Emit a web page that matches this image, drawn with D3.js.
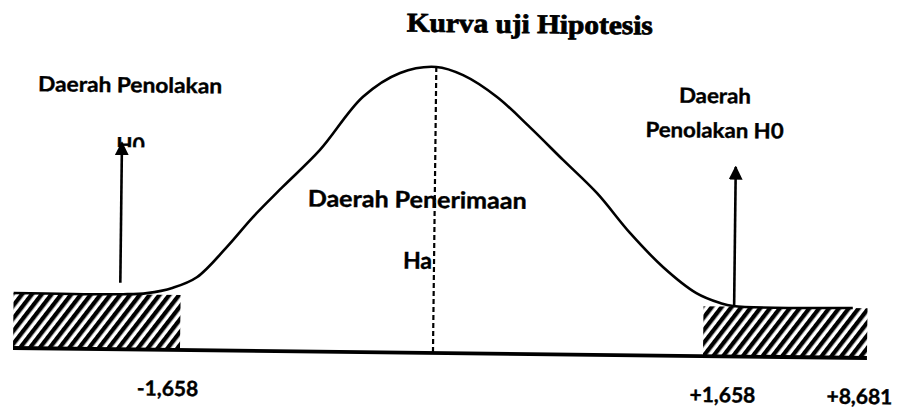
<!DOCTYPE html>
<html>
<head>
<meta charset="utf-8">
<script src="https://cdn.jsdelivr.net/npm/d3@7"></script>
<style>
  html, body { margin: 0; padding: 0; background: #fff; }
  svg { display: block; }
</style>
</head>
<body>
<svg id="chart" width="898" height="410"></svg>
<script>
// --- Test values ---------------------------------------------------------
const criticalValues = [-1.658, 1.658];   // t-tabel
const tStatistic = 8.681;                 // t-hitung

// Axis tick values and their printed labels
const tickValues = [-1.658, 1.658, 8.681];
const tickLabels = ["-1,658", "+1,658", "+8,681"];

// Outline of the bell curve: position on the t axis and curve height
const curveT = [-8.681, -4.08, -3.07, -1.98, -1.553, -1.358, -1.19, -0.996, -0.756,
                -0.478, -0.237, 0, 0.165, 0.375, 0.58, 0.785, 0.996, 1.201, 1.406,
                1.613, 2.369, 2.921, 8.05];
const curveHeight = [0.077, 0.077, 0.079, 0.087, 0.102, 0.145, 0.187, 0.23, 0.282,
                     0.357, 0.391, 0.4, 0.389, 0.359, 0.317, 0.272, 0.226, 0.171, 0.124,
                     0.088, 0.0745, 0.0705, 0.0697];

// Texts
const titleText = "Kurva uji Hipotesis";
const leftRegionText = "Daerah Penolakan";
const leftHypText = "H0";
const centerRegionText = "Daerah Penerimaan";
const centerHypText = "Ha";
const rightRegionLines = ["Daerah", "Penolakan H0"];

// --- Drawing -------------------------------------------------------------
const svg = d3.select("#chart");
const SANS = "Lato, 'Open Sans', 'DejaVu Sans', sans-serif";
const SERIF = "'Liberation Serif', 'Times New Roman', serif";

// The t axis is drawn broken: the tails out to ±t-hitung are compressed.
const x = d3.scaleLinear()
  .domain([-tStatistic, criticalValues[0], 0, criticalValues[1], tStatistic])
  .range([13, 180, 433, 703, 867]);
const y = d3.scaleLinear().domain([0, 0.4]).range([353, 67]);

const defs = svg.append("defs");
defs.append("pattern")
    .attr("id", "hatch")
    .attr("patternUnits", "userSpaceOnUse")
    .attr("width", 7.8).attr("height", 10)
    .attr("patternTransform", "rotate(37)")
  .append("rect")
    .attr("x", 0).attr("y", 0)
    .attr("width", 4.3).attr("height", 10)
    .attr("fill", "#000");

defs.append("clipPath").attr("id", "h0clip")
  .append("rect").attr("x", 0).attr("y", 0).attr("width", 898).attr("height", 151);

defs.append("marker")
    .attr("id", "arrowhead")
    .attr("viewBox", "0 0 10 10")
    .attr("refX", 9).attr("refY", 5)
    .attr("markerUnits", "userSpaceOnUse")
    .attr("markerWidth", 14).attr("markerHeight", 14)
    .attr("orient", "auto")
  .append("path")
    .attr("d", "M0,0 L10,5 L0,10 Z")
    .attr("fill", "#000");

// Whole sketch sits slightly tilted
const g = svg.append("g").attr("transform", "rotate(0.67, 440, 350)");

// Rejection regions (hatched)
const tailLeft = curveHeight[0];
const tailRight = curveHeight[curveHeight.length - 1];
const regions = [
  { from: -tStatistic, to: criticalValues[0], h: tailLeft },
  { from: criticalValues[1], to: tStatistic, h: tailRight }
];
g.selectAll("rect.reject")
  .data(regions)
  .join("rect")
    .attr("class", "reject")
    .attr("x", d => x(d.from))
    .attr("y", d => y(d.h))
    .attr("width", d => x(d.to) - x(d.from))
    .attr("height", d => y(0) - y(d.h))
    .attr("fill", "url(#hatch)");

// Base line
g.append("line")
    .attr("x1", x(-tStatistic)).attr("x2", x(tStatistic))
    .attr("y1", y(0)).attr("y2", y(0))
    .attr("stroke", "#000").attr("stroke-width", 3.8);

// Bell curve
const pts = curveT.map((t, i) => [t, curveHeight[i]]);
g.append("path")
    .datum(pts)
    .attr("d", d3.line().x(d => x(d[0])).y(d => y(d[1])).curve(d3.curveCatmullRom.alpha(0.5)))
    .attr("fill", "none")
    .attr("stroke", "#000")
    .attr("stroke-width", 2.6);

// Centre line
g.append("line")
    .attr("x1", x(0)).attr("x2", x(0))
    .attr("y1", y(0.4)).attr("y2", y(0))
    .attr("stroke", "#000").attr("stroke-width", 2.2)
    .attr("stroke-dasharray", "5,3");

// Arrows pointing at the rejection regions
const arrows = [
  { t: -4.2, from: 0.093, to: 0.289 },
  { t: 2.968, from: 0.072, to: 0.265 }
];
g.selectAll("line.arrow")
  .data(arrows)
  .join("line")
    .attr("class", "arrow")
    .attr("x1", d => x(d.t)).attr("x2", d => x(d.t))
    .attr("y1", d => y(d.from)).attr("y2", d => y(d.to))
    .attr("stroke", "#000").attr("stroke-width", 2.6)
    .attr("marker-end", "url(#arrowhead)");

// Tick labels
const labelShift = [-12, 20, -7];
g.selectAll("text.tick")
  .data(tickValues)
  .join("text")
    .attr("class", "tick")
    .attr("x", (d, i) => x(d) + labelShift[i])
    .attr("y", 399)
    .attr("text-anchor", "middle")
    .attr("font-family", SANS)
    .attr("font-weight", 700)
    .attr("font-size", 21)
    .attr("stroke", "#000").attr("stroke-width", 0.4)
    .text((d, i) => tickLabels[i]);

function label(txt, px, py, size, opts = {}) {
  const t = g.append("text")
    .attr("x", px).attr("y", py)
    .attr("font-family", opts.family || SANS)
    .attr("font-weight", 700)
    .attr("font-size", size)
    .attr("text-anchor", opts.anchor || "start")
    .attr("stroke", "#000").attr("stroke-width", opts.stroke || 0.4)
    .text(txt);
  if (opts.len) t.attr("textLength", opts.len).attr("lengthAdjust", "spacingAndGlyphs");
  return t;
}

// Title
label(titleText, 526, 32, 27, { family: SERIF, anchor: "middle", len: 246, stroke: 0.8 });

// Left rejection region
label(leftRegionText, 35, 96, 21, { len: 184 });
label(leftHypText, 114, 156, 21).attr("clip-path", "url(#h0clip)");

// Acceptance region
label(centerRegionText, 306, 208, 23, { len: 219 });
label(centerHypText, 402, 269, 23);

// Right rejection region
label(rightRegionLines[0], 712, 100, 21, { anchor: "middle", len: 72 });
label(rightRegionLines[1], 712, 134.5, 21, { anchor: "middle", len: 138 });
</script>
</body>
</html>
